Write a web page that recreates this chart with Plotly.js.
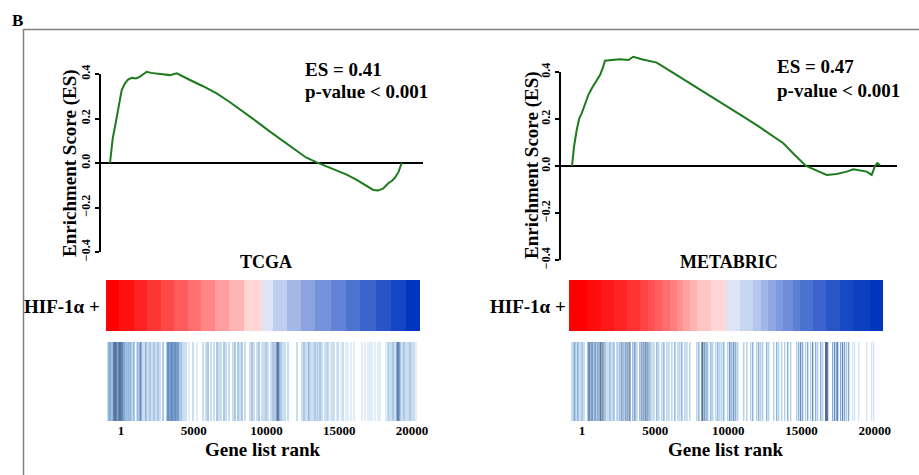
<!DOCTYPE html>
<html>
<head>
<meta charset="utf-8">
<script src="https://cdn.plot.ly/plotly-3.0.1.min.js"></script>
<style>html,body{margin:0;padding:0;background:#fff;}#chart{width:919px;height:475px;}</style>
</head>
<body>
<div id="chart"></div>
<script>
// ---------- Running enrichment score curves ----------
var tcgaRank = [0,186,344,570,804,1031,1237,1491,1787,2062,2268,2522,2818,3210,3643,4124,4584,5017,5498,6392,7333,8247,9161,10082,10997,11890,12832,13471,14206,14893,15581,16268,16955,17526,18096,18419,18784,19127,19381,19588,19828,20048];
var tcgaES = [0,0.11,0.163,0.246,0.328,0.358,0.375,0.383,0.38,0.388,0.398,0.41,0.405,0.403,0.4,0.395,0.403,0.39,0.373,0.345,0.313,0.273,0.231,0.186,0.141,0.099,0.058,0.025,0.003,-0.015,-0.031,-0.052,-0.076,-0.1,-0.121,-0.124,-0.114,-0.091,-0.08,-0.066,-0.04,0];

var metaRank = [0,137,321,498,662,887,1113,1345,1686,1911,2096,2253,2710,3276,3843,4184,4758,5782,6416,7147,8055,8962,9877,10785,11693,12608,13515,14423,15154,15973,16703,17386,18068,18751,19201,19659,20116,20457,20683,20840,21024];
var metaES = [0,0.082,0.153,0.203,0.224,0.267,0.302,0.33,0.366,0.387,0.416,0.448,0.451,0.454,0.451,0.465,0.454,0.44,0.415,0.387,0.352,0.316,0.281,0.245,0.21,0.174,0.136,0.097,0.05,0,-0.02,-0.038,-0.034,-0.024,-0.014,-0.02,-0.024,-0.038,0,0.012,0.004];

// ---------- Ranked list metric heat strip (block edges in rank units, value per block) ----------
var tcgaHeatEdges = [-1031,-117,893,1808,2729,3663,4584,5478,6460,7443,8474,9711,10426,11388,12351,13354,14433,15443,16426,17505,18536,19588,20550];
var tcgaHeatZ = [1,0.93,0.86,0.78,0.7,0.62,0.54,0.45,0.36,0.26,0.13,-0.1,-0.22,-0.33,-0.43,-0.52,-0.6,-0.68,-0.76,-0.84,-0.92,-1];

var metaHeatEdges = [-887,364,1274,2184,3095,3959,4481,4983,5438,6007,6462,6871,7372,7872,8783,9807,10785,11693,12264,12719,13288,13743,14424,14881,15789,16703,17611,18519,19659,20567];
var metaHeatZ = [1,0.95,0.9,0.85,0.79,0.73,0.67,0.61,0.55,0.48,0.41,0.34,0.27,0.2,0.12,-0.1,-0.18,-0.26,-0.34,-0.41,-0.48,-0.55,-0.62,-0.69,-0.76,-0.83,-0.9,-0.95,-1];

// ---------- Gene-set hit positions (rank) and shade level (1 light .. 5 dark) ----------
var tcgaHits = [-894,-825,-756,-687,-619,-550,-481,-412,-344,-275,-206,-137,-69,1,69,137,206,275,344,412,481,550,619,687,
  825,893,1100,1168,1306,1375,1512,
  1650,1718,1856,1993,2131,2268,2406,2543,2680,2887,
  3162,3230,3299,3368,3437,3505,3574,3643,3711,3780,3849,3918,3986,
  4124,4193,4330,4467,4674,4949,5223,
  5636,5842,5980,6186,6392,
  6598,6736,6873,7079,7217,
  7423,7698,7835,
  8041,8179,8316,8523,
  8866,9004,9141,9347,9485,
  9691,9828,9966,10103,10310,10447,10584,10722,10791,10859,10997,11134,11272,11478,
  12096,
  12440,12578,12715,12853,12921,13059,13196,13334,13471,13540,13677,13815,14021,14158,
  14227,14365,14502,14639,14846,14914,15121,
  15258,15464,15602,15808,16014,
  16564,16770,16976,17114,17251,17457,17664,17801,
  18213,18351,18420,18557,18695,18832,18969,19038,19107,19176,19313,19451,19588,19726,19863,20000,20138,20275];
var tcgaHitLevel = [2,3,3,3,2,3,5,5,5,4,3,5,5,5,4,4,3,3,2,3,2,3,2,3,
  2,3,2,3,4,4,2,
  2,3,2,3,2,3,2,3,2,3,
  3,4,4,3,4,4,4,3,4,4,3,4,3,
  3,2,2,2,1,2,1,
  2,2,3,2,2,
  3,2,2,3,2,
  2,2,3,
  3,2,3,2,
  2,3,2,2,3,
  2,2,3,2,2,3,3,5,5,4,3,2,2,2,
  2,
  2,3,2,2,3,2,2,3,2,2,3,2,2,2,
  2,1,2,2,1,2,1,
  2,1,1,1,1,
  1,1,1,1,1,1,1,1,
  1,2,2,2,3,2,4,5,4,3,2,3,2,2,3,2,2,1];

var metaHits = [-683,-546,-478,-341,-273,-137,1,137,
  410,478,546,683,751,887,956,1092,1229,1297,1433,1570,1638,
  1775,1911,2048,2184,2389,2457,2594,
  2730,2867,3003,3140,3276,
  3481,3618,3754,3959,4096,4232,4369,4505,4642,
  4778,4915,5120,5256,5461,5597,
  5802,5939,6143,6348,6553,6689,6826,7031,7167,7372,
  7850,7986,8191,8259,8396,8533,8601,8806,
  8942,9147,9283,9420,9556,9693,
  9966,10102,10239,10376,10512,10649,
  11058,11263,11536,11672,
  11946,12082,12219,12355,12628,12765,
  13106,13311,13447,13652,13857,14062,14266,
  14676,14812,14949,15085,15290,
  15427,15632,15768,15973,16109,16314,16451,
  16655,16724,16792,
  17133,17270,17406,17475,17679,17816,17952,18089,18225,
  18498,18635,18908,19454,19795,19932];
var metaHitLevel = [2,3,3,2,3,2,3,2,
  3,4,4,5,3,4,3,4,4,5,5,3,2,
  2,3,2,3,2,2,3,
  4,3,4,4,5,
  3,4,2,3,4,4,5,4,3,
  2,2,3,2,2,3,
  2,2,2,3,2,2,3,2,2,2,
  2,3,4,5,4,3,2,3,
  2,2,3,2,2,3,
  2,4,3,4,3,2,
  2,2,2,3,
  2,3,2,2,3,2,
  2,3,2,2,2,3,2,
  2,3,4,3,2,
  3,2,4,3,2,3,2,
  5,5,4,
  3,4,3,4,3,4,3,2,3,
  1,1,1,1,1,1];

var rankTicks = [1, 5000, 10000, 15000, 20000];
var rankTickText = ['1', '5000', '10000', '15000', '20000'];
var esTicks = [-0.4, -0.2, 0, 0.2, 0.4];

// ---------- styling ----------
var W = 919, H = 475;
function px(x){ return x / W; }
function py(y){ return 1 - y / H; }
var FONT = 'Liberation Serif, Times New Roman, serif';
var green = '#1d7a1d';
var heatScale = [[0,'#0036BE'],[0.45,'#DCE4F5'],[0.5,'#FFFFFF'],[0.55,'#FFDCDC'],[1,'#FF0000']];
var barScale = [[0,'#C6DDF0'],[0.25,'#96BEE2'],[0.5,'#5E94CB'],[0.75,'#3469AC'],[1,'#284777']];

function ones(a){ return a.map(function(){ return 1; }); }

var traces = [
  {type:'scatter', mode:'lines', x:tcgaRank, y:tcgaES, xaxis:'x', yaxis:'y', line:{color:green, width:2}, hoverinfo:'skip'},
  {type:'scatter', mode:'lines', x:metaRank, y:metaES, xaxis:'x2', yaxis:'y2', line:{color:green, width:2}, hoverinfo:'skip'},
  {type:'heatmap', z:[tcgaHeatZ], x:tcgaHeatEdges, y:[0,1], xaxis:'x3', yaxis:'y4', colorscale:heatScale, zmin:-1, zmax:1, showscale:false, hoverinfo:'skip'},
  {type:'heatmap', z:[metaHeatZ], x:metaHeatEdges, y:[0,1], xaxis:'x4', yaxis:'y6', colorscale:heatScale, zmin:-1, zmax:1, showscale:false, hoverinfo:'skip'},
  {type:'bar', x:tcgaHits, y:ones(tcgaHits), width:70, xaxis:'x3', yaxis:'y3', marker:{color:tcgaHitLevel, colorscale:barScale, cmin:1, cmax:5, line:{width:0}}, hoverinfo:'skip'},
  {type:'bar', x:metaHits, y:ones(metaHits), width:70, xaxis:'x4', yaxis:'y5', marker:{color:metaHitLevel, colorscale:barScale, cmin:1, cmax:5, line:{width:0}}, hoverinfo:'skip'}
];

function esY(domain, range, anchor){
  return {domain:domain, range:range, anchor:anchor, showgrid:false, zeroline:true, zerolinecolor:'black', zerolinewidth:2,
    showline:false, ticks:'outside', ticklen:4, tickwidth:2, tickcolor:'black', tickvals:esTicks, tickformat:'.1f',
    tickangle:-90, tickfont:{family:FONT, size:12, weight:'bold', color:'black'}};
}
function hidden(domain, range, anchor){
  return {domain:domain, range:range, anchor:anchor, visible:false, showgrid:false, zeroline:false, fixedrange:true};
}
function rankX(domain, range, anchor){
  return {domain:domain, range:range, anchor:anchor, showgrid:false, zeroline:false, showline:false, ticks:'',
    tickvals:rankTicks, ticktext:rankTickText, tickfont:{family:FONT, size:13, weight:'bold', color:'black'}};
}

var xL = [px(100), px(423)], xR = [px(560), px(897)];
var barDom = [py(421), py(342)], heatDom = [py(331), py(280)];

function ann(text, x, y, size, opts){
  var a = {text:text, x:x, y:y, xref:'paper', yref:'paper', showarrow:false, xanchor:'center', yanchor:'middle',
    font:{family:FONT, size:size, weight:'bold', color:'black'}};
  for (var k in (opts||{})) a[k] = opts[k];
  return a;
}

var layout = {
  width:W, height:H, margin:{l:0,r:0,t:0,b:0}, paper_bgcolor:'white', plot_bgcolor:'rgba(0,0,0,0)', showlegend:false,
  font:{family:FONT, size:13, color:'black', weight:'bold'},
  xaxis: hidden(xL, [-687, 21512], 'y'),
  yaxis: esY([py(252), py(60)], [-0.4, 0.4629], 'x'),
  xaxis2: hidden(xR, [-819, 22184], 'y2'),
  yaxis2: esY([py(260), py(50)], [-0.4, 0.4936], 'x2'),
  xaxis3: rankX([px(106), px(420)], [-1031, 20550], 'y3'),
  yaxis3: hidden(barDom, [0,1], 'x3'),
  yaxis4: hidden(heatDom, [0,1], 'x3'),
  xaxis4: rankX([px(569), px(883)], [-887, 20567], 'y5'),
  yaxis5: hidden(barDom, [0,1], 'x4'),
  yaxis6: hidden(heatDom, [0,1], 'x4'),
  shapes: [
    {type:'line', xref:'paper', yref:'paper', x0:px(23), x1:1, y0:py(29.5), y1:py(29.5), line:{color:'#7f7f7f', width:1.5}},
    {type:'line', xref:'paper', yref:'paper', x0:px(23.5), x1:px(23.5), y0:py(29), y1:0, line:{color:'#7f7f7f', width:1.5}},
    {type:'line', xref:'paper', yref:'y', x0:px(100), x1:px(100), y0:-0.4, y1:0.4, line:{color:'black', width:2}},
    {type:'line', xref:'paper', yref:'y2', x0:px(560), x1:px(560), y0:-0.4, y1:0.4, line:{color:'black', width:2}}
  ],
  annotations: [
    ann('B', px(17), py(20.5), 17),
    ann('ES = 0.41', px(303), py(69), 19, {xanchor:'left'}),
    ann('p-value &lt; 0.001', px(303), py(91), 19, {xanchor:'left'}),
    ann('ES = 0.47', px(775), py(67), 19, {xanchor:'left'}),
    ann('p-value &lt; 0.001', px(775), py(90), 19, {xanchor:'left'}),
    ann('TCGA', px(266), py(262), 18),
    ann('METABRIC', px(729), py(262), 18),
    ann('HIF-1α +', px(102), py(306), 19, {xanchor:'right'}),
    ann('HIF-1α +', px(568), py(306), 19, {xanchor:'right'}),
    ann('Gene list rank', px(262), py(449), 19),
    ann('Gene list rank', px(725), py(449), 19),
    ann('Enrichment Score (ES)', px(70), py(163), 19, {textangle:-90}),
    ann('Enrichment Score (ES)', px(532), py(165), 19, {textangle:-90})
  ]
};

Plotly.newPlot('chart', traces, layout, {staticPlot:true, displayModeBar:false});
</script>
</body>
</html>
